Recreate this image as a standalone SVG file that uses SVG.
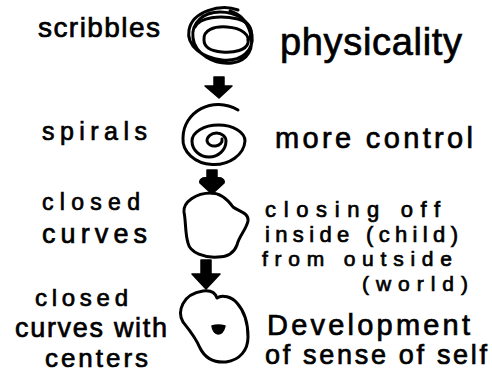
<svg xmlns="http://www.w3.org/2000/svg" width="492" height="375" viewBox="0 0 492 375">
  <style>
    text { font-family: "Liberation Sans", Arial, sans-serif; fill: #000; stroke: #000; stroke-width: 0.7; }
    .ink { fill: none; stroke: #000; stroke-width: 3; stroke-linecap: round; stroke-linejoin: round; }
    .solid { fill: #000; stroke: #000; stroke-width: 1.5; stroke-linejoin: round; }
  </style>
  <rect width="492" height="375" fill="#fff"/>

  <g id="scribbles">
    <text x="38" y="37" font-size="28" textLength="122" lengthAdjust="spacing">scribbles</text>
    <g class="ink">
      <path d="M 238 10 C 220 3, 192 12, 189 30 C 186 46, 203 58, 222 60 C 242 62, 254 50, 252 35 C 250 20, 236 12, 220 12 C 204 12, 191 22, 193 38 C 195 54, 214 65, 232 63 C 248 61, 255 48, 250 32 C 247 22, 240 14, 230 11"/>
      <path d="M 204 40 C 203 30, 214 26, 227 27 C 242 28, 250 35, 248 43 C 246 50, 235 53, 222 52 C 210 51, 204 47, 204 40 Z"/>
      <path d="M 195 27 C 200 17, 220 15, 238 19 C 252 23, 254 33, 248 40"/>
    </g>
    <text x="280" y="55" font-size="38" textLength="182" lengthAdjust="spacing">physicality</text>
  </g>

  <g id="spirals">
    <text x="42" y="140" font-size="25" textLength="105" lengthAdjust="spacing">spirals</text>
    <path class="ink" d="M 222 139 A 7.5 6 0 0 1 207 141 A 9.5 8 0 0 1 226 141 A 17 16 0 0 1 192 141 A 26.5 16 0 0 1 245 141 A 31 25 0 0 1 183 138 C 183 112, 213 95, 238 110"/>
    <text x="275" y="148" font-size="29" textLength="198" lengthAdjust="spacing">more control</text>
  </g>

  <g id="closed-curves">
    <text x="42" y="210" font-size="23" textLength="98" lengthAdjust="spacing">closed</text>
    <text x="42" y="243" font-size="27" textLength="105" lengthAdjust="spacing">curves</text>
    <path class="ink" d="M 211 193 C 220 193, 228 200, 233 207 C 240 212, 249 213, 248 221 C 246 230, 239 236, 237 245 C 234 253, 228 257, 218 257 C 205 258, 190 253, 188 243 C 185 233, 186 222, 184 212 C 183 202, 196 193, 211 193 Z"/>
    <text x="265" y="217" font-size="22" textLength="175" lengthAdjust="spacing">closing off</text>
    <text x="265" y="242" font-size="22" textLength="193" lengthAdjust="spacing">inside (child)</text>
    <text x="262" y="266" font-size="21" textLength="190" lengthAdjust="spacing">from outside</text>
    <text x="362" y="291" font-size="21" textLength="106" lengthAdjust="spacing">(world)</text>
  </g>

  <g id="closed-curves-with-centers">
    <text x="35" y="306" font-size="24" textLength="93" lengthAdjust="spacing">closed</text>
    <text x="15" y="337" font-size="27" textLength="152" lengthAdjust="spacing">curves with</text>
    <text x="45" y="367" font-size="26" textLength="103" lengthAdjust="spacing">centers</text>
    <path class="ink" d="M 203 291 C 210 290, 215 292, 217 298 C 222 294, 232 297, 237 303 C 246 313, 248 325, 248 337 C 248 350, 240 360, 226 362 C 213 363, 205 358, 200 348 C 196 338, 191 332, 183 322 C 177 312, 182 294, 203 291 Z"/>
    <path class="solid" d="M 212 326 Q 218 324 225 326 Q 223 334 218 334 Q 213 333 212 326 Z"/>
    <text x="267" y="335" font-size="29" textLength="203" lengthAdjust="spacing">Development</text>
    <text x="265" y="364" font-size="27" textLength="222" lengthAdjust="spacing">of sense of self</text>
  </g>

  <g id="connectors">
    <path class="solid" d="M 214 77 L 224 77 L 224 86 L 232 86 L 219 98 L 205 86 L 214 86 Z"/>
    <path class="solid" d="M 207 170 L 217 170 L 217 178 C 222 177, 225 180, 224 183 L 212 194 L 200 183 C 199 180, 202 177, 207 178 Z"/>
    <path class="solid" d="M 201 260 L 211 260 L 211 274 L 220 274 L 206 289 L 192 274 L 201 274 Z"/>
  </g>
</svg>
